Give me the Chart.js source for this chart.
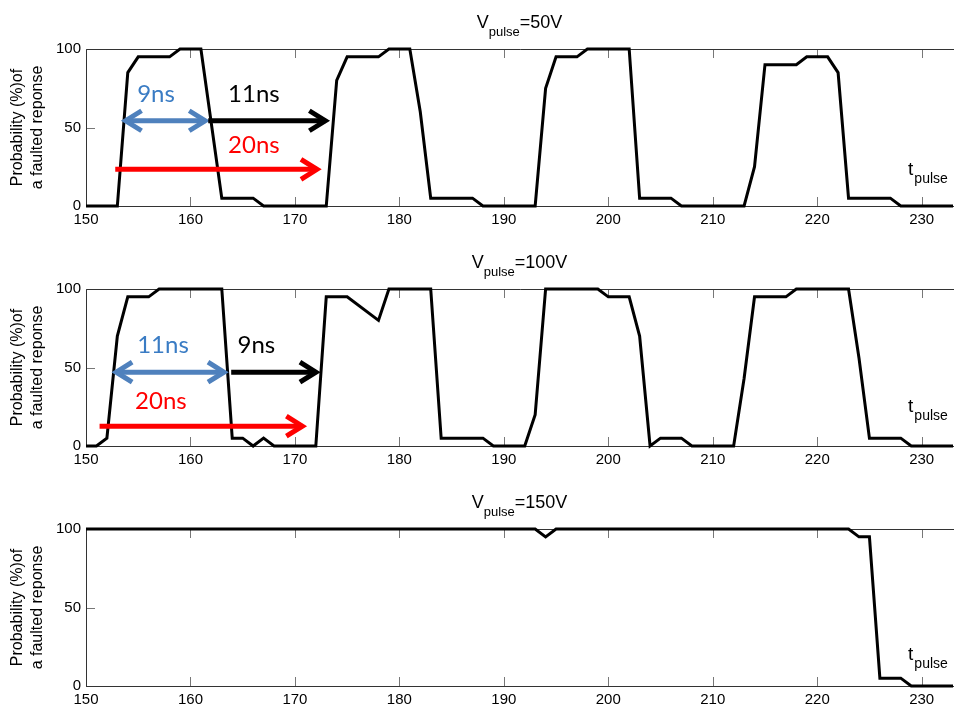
<!DOCTYPE html>
<html>
<head>
<meta charset="utf-8">
<script src="https://cdn.jsdelivr.net/npm/chart.js@4.4.0/dist/chart.umd.min.js"></script>
<style>
  html, body { margin: 0; padding: 0; background: #fff; overflow: hidden; }
  #wrap { position: relative; width: 954px; height: 706px; }
  canvas { position: absolute; left: 0; }
</style>
</head>
<body>
<div id="wrap">
  <canvas id="c50" width="954" height="240" style="top:0px"></canvas>
  <canvas id="c100" width="954" height="240" style="top:240px"></canvas>
  <canvas id="c150" width="954" height="240" style="top:480px"></canvas>
</div>
<script>
// tick values
let xTicks = [150, 160, 170, 180, 190, 200, 210, 220, 230];
let yTicks = [0, 50, 100];
let yLabel = ['Probability (%)of', 'a faulted reponse'];

// V_pulse = 50V
let t50 = [150, 153, 154, 155, 158, 159, 161, 163, 166, 167, 173, 174, 175, 178, 179, 181, 182, 183, 187, 188,
           193, 194, 195, 197, 198, 202, 203, 206, 207, 213, 214, 215, 218, 219, 221, 222, 223, 227, 228, 233];
let p50 = [0, 0, 85, 95, 95, 100, 100, 5, 5, 0, 0, 80, 95, 95, 100, 100, 60, 5, 5, 0,
           0, 75, 95, 95, 100, 100, 5, 5, 0, 0, 25, 90, 90, 95, 95, 85, 5, 5, 0, 0];

// V_pulse = 100V
let t100 = [150, 151, 152, 153, 154, 156, 157, 163, 164, 165, 166, 167, 168, 172, 173, 175, 178, 179, 183, 184, 188, 189,
            192, 193, 194, 199, 200, 202, 203, 204, 205, 207, 208, 212, 213, 214, 217, 218, 223, 224, 225, 228, 229, 233];
let p100 = [0, 0, 5, 70, 95, 95, 100, 100, 5, 5, 0, 5, 0, 0, 95, 95, 80, 100, 100, 5, 5, 0,
            0, 20, 100, 100, 95, 95, 70, 0, 5, 5, 0, 0, 43, 95, 95, 100, 100, 56, 5, 5, 0, 0];

// V_pulse = 150V
let t150 = [150, 193, 194, 195, 223, 224, 225, 226, 228, 229, 233];
let p150 = [100, 100, 95, 100, 100, 95, 95, 5, 5, 0, 0];

const FONT = "'Liberation Sans', Arial, sans-serif";
const NOTE_FONT = "24px Lato, 'Open Sans', sans-serif";
const blueLine = '#4f81bd', blueText = '#3a7cc4', red = '#ff0000';

Chart.defaults.font.family = FONT;
Chart.defaults.color = '#000';

// annotations in data units (x = ns, y = %)
let panels = [
  { id: 'c50', t: t50, p: p50, volt: '50V',
    arrows: [
      { from: 153.5, to: 161.7, at: 54.3, color: blueLine, both: true },
      { from: 161.7, to: 173.2, at: 54.3, color: '#000' },
      { from: 152.8, to: 172.4, at: 23.4, color: red }
    ],
    notes: [
      { text: '9ns', x: 154.9, y: 66.4, color: blueText },
      { text: '11ns', x: 163.6, y: 66.4, color: '#000' },
      { text: '20ns', x: 163.6, y: 33.6, color: red }
    ],
    tp: [228.7, 19.6] },
  { id: 'c100', t: t100, p: p100, volt: '100V',
    arrows: [
      { from: 152.6, to: 163.5, at: 47, color: blueLine, both: true },
      { from: 163.9, to: 172.3, at: 47, color: '#000' },
      { from: 151.3, to: 171.0, at: 12.6, color: red }
    ],
    notes: [
      { text: '11ns', x: 154.9, y: 59.4, color: blueText },
      { text: '9ns', x: 164.5, y: 59.4, color: '#000' },
      { text: '20ns', x: 154.7, y: 23.4, color: red }
    ],
    tp: [228.7, 21.7] },
  { id: 'c150', t: t150, p: p150, volt: '150V', arrows: [], notes: [], tp: [228.7, 16.4] }
];

function head(ctx, x, y, dir) {
  ctx.beginPath();
  ctx.moveTo(x - dir * 16, y - 10);
  ctx.lineTo(x, y);
  ctx.lineTo(x - dir * 16, y + 10);
  ctx.stroke();
}

const framePlugin = {
  id: 'frame',
  beforeDatasetsDraw(chart) {
    const { ctx, chartArea: a, scales: { x, y } } = chart;
    ctx.save();
    ctx.lineWidth = 1;
    ctx.strokeStyle = '#777';
    xTicks.forEach(v => {
      const px = Math.round(x.getPixelForValue(v)) + 0.5;
      ctx.beginPath();
      ctx.moveTo(px, a.bottom); ctx.lineTo(px, a.bottom - 9);
      ctx.moveTo(px, a.top); ctx.lineTo(px, a.top + 9);
      ctx.stroke();
    });
    yTicks.forEach(v => {
      const py = Math.round(y.getPixelForValue(v)) + 0.5;
      ctx.beginPath();
      ctx.moveTo(a.left, py); ctx.lineTo(a.left + 9, py);
      ctx.stroke();
    });
    ctx.strokeStyle = '#333';
    ctx.beginPath();
    ctx.moveTo(a.left + 0.5, a.bottom + 0.5);
    ctx.lineTo(a.left + 0.5, a.top + 0.5);
    ctx.lineTo(chart.width, a.top + 0.5);
    ctx.moveTo(a.left, a.bottom + 0.5);
    ctx.lineTo(chart.width, a.bottom + 0.5);
    ctx.stroke();
    ctx.restore();
  },
  afterDraw(chart, args, opts) {
    const panel = opts.panel;
    const { ctx, chartArea: a, scales: { x, y } } = chart;
    ctx.save();
    // title with subscript
    const big = '18px ' + FONT, small = '13px ' + FONT;
    ctx.textAlign = 'left';
    ctx.textBaseline = 'alphabetic';
    ctx.fillStyle = '#000';
    ctx.font = big;
    const wV = ctx.measureText('V').width;
    const wR = ctx.measureText('=' + panel.volt).width;
    ctx.font = small;
    const wS = ctx.measureText('pulse').width;
    const x0 = (a.left + a.right) / 2 - (wV + wS + wR) / 2;
    const base = a.top - 21;
    ctx.font = big; ctx.fillText('V', x0, base);
    ctx.font = small; ctx.fillText('pulse', x0 + wV, base + 8);
    ctx.font = big; ctx.fillText('=' + panel.volt, x0 + wV + wS, base);

    // t_pulse
    const tx = x.getPixelForValue(panel.tp[0]), ty = y.getPixelForValue(panel.tp[1]);
    ctx.font = '19px ' + FONT;
    ctx.fillText('t', tx, ty);
    const wt = ctx.measureText('t').width;
    ctx.font = '14px ' + FONT;
    ctx.fillText('pulse', tx + wt + 1, ty + 8);

    // arrows
    ctx.lineWidth = 5;
    ctx.lineJoin = 'miter';
    ctx.lineCap = 'butt';
    panel.arrows.forEach(ar => {
      const x1 = x.getPixelForValue(ar.from), x2 = x.getPixelForValue(ar.to) - 3;
      const py = y.getPixelForValue(ar.at);
      ctx.strokeStyle = ar.color;
      ctx.beginPath();
      ctx.moveTo(ar.both ? x1 + 3 : x1, py);
      ctx.lineTo(x2, py);
      ctx.stroke();
      head(ctx, x2, py, 1);
      if (ar.both) head(ctx, x1 + 3, py, -1);
    });

    // notes
    ctx.font = NOTE_FONT;
    panel.notes.forEach(n => {
      ctx.fillStyle = n.color;
      ctx.fillText(n.text, x.getPixelForValue(n.x), y.getPixelForValue(n.y));
    });
    ctx.restore();
  }
};

panels.forEach(panel => {
  new Chart(document.getElementById(panel.id), {
    type: 'line',
    data: {
      datasets: [{
        data: panel.t.map((v, i) => ({ x: v, y: panel.p[i] })),
        borderColor: '#000',
        borderWidth: 3,
        pointRadius: 0,
        tension: 0,
        fill: false,
        clip: 5
      }]
    },
    options: {
      responsive: false,
      animation: false,
      layout: { padding: { top: 49, right: 1, left: 0, bottom: 0 } },
      plugins: {
        legend: { display: false },
        tooltip: { enabled: false },
        frame: { panel: panel }
      },
      scales: {
        x: {
          type: 'linear',
          min: 150,
          max: 233,
          afterBuildTicks: s => { s.ticks = xTicks.map(v => ({ value: v })); },
          afterFit: s => { s.height = 34; },
          grid: { display: false, drawTicks: false },
          border: { display: false },
          ticks: { padding: 5, color: '#000', font: { size: 15 }, maxRotation: 0, autoSkip: false }
        },
        y: {
          min: 0,
          max: 100,
          afterBuildTicks: s => { s.ticks = yTicks.map(v => ({ value: v })); },
          afterFit: s => { s.width = 86; },
          grid: { display: false, drawTicks: false },
          border: { display: false },
          ticks: { padding: 5, color: '#000', font: { size: 15 } },
          title: {
            display: true,
            text: yLabel,
            color: '#000',
            font: { size: 16, lineHeight: 1.25 },
            padding: { top: 8, bottom: 0 }
          }
        }
      }
    },
    plugins: [framePlugin]
  });
});
</script>
</body>
</html>
